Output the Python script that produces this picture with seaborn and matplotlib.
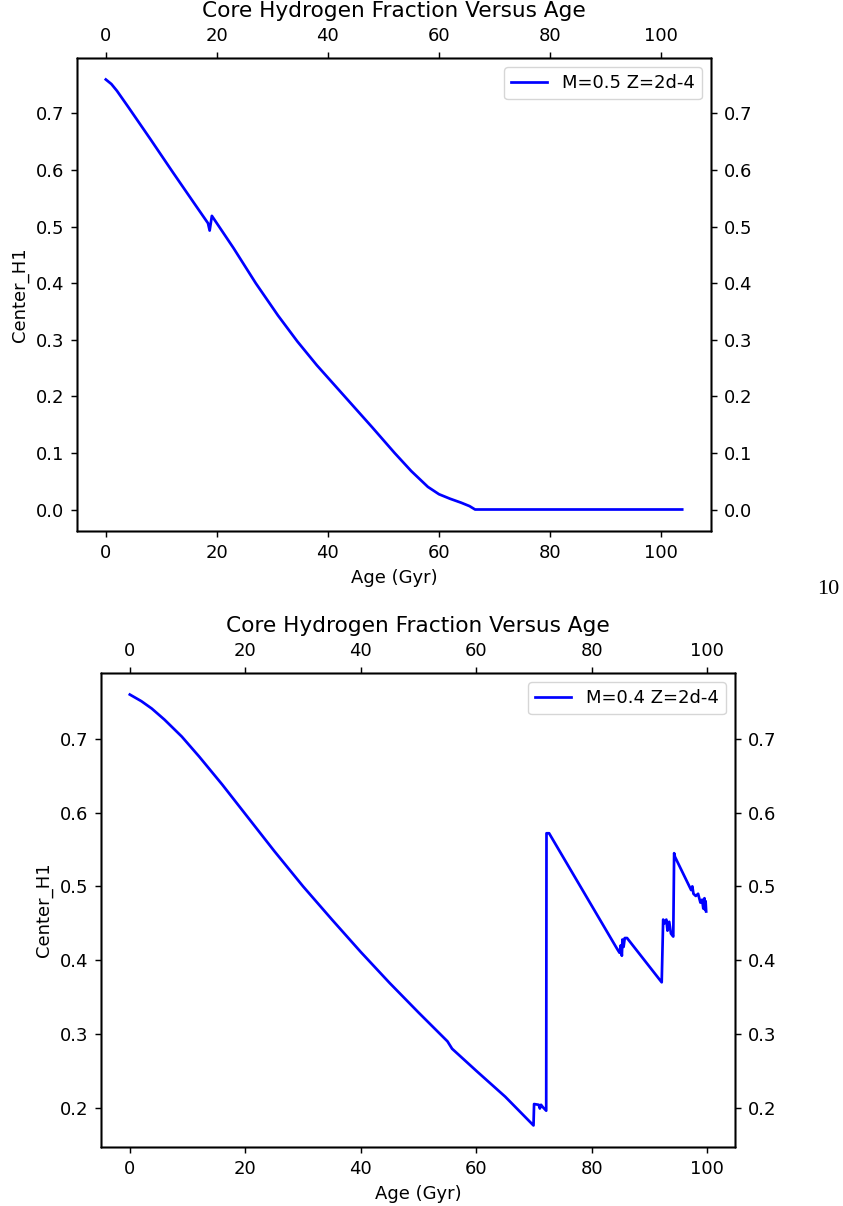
import matplotlib
matplotlib.use("Agg")
import matplotlib.pyplot as plt
import seaborn as sns
import pandas as pd

# ---- data: M=0.5, Z=2d-4 ----
age_05 = [0.0, 1.0, 2.0, 4.0, 8.0, 12.0, 16.0, 18.4, 18.7, 19.1, 23.0, 27.0, 31.0,
          34.5, 38.0, 43.0, 48.0, 52.0, 55.0, 58.0, 60.0, 62.0, 64.0, 65.5, 66.5,
          80.0, 103.8]
h1_05 = [0.760, 0.752, 0.740, 0.712, 0.655, 0.597, 0.540, 0.506, 0.493, 0.519,
         0.462, 0.400, 0.343, 0.297, 0.255, 0.200, 0.145, 0.100, 0.068, 0.040,
         0.027, 0.019, 0.012, 0.006, 0.000, 0.000, 0.000]

# ---- data: M=0.4, Z=2d-4 ----
age_04 = [0.0, 2.0, 3.8, 6.0, 9.0, 12.0, 16.0, 20.0, 25.0, 30.0, 35.0, 40.0, 45.0,
          50.0, 55.0, 55.8, 60.0, 65.0, 69.9, 70.0, 70.8, 71.0, 71.2, 71.5, 72.1,
          72.15, 72.6, 84.4, 84.8, 85.0, 85.2, 85.3, 85.5, 85.7, 86.1, 92.1,
          92.35, 92.6, 92.9, 93.1, 93.4, 93.7, 94.1, 94.25, 94.4, 97.2, 97.4,
          97.6, 98.0, 98.4, 98.8, 99.1, 99.3, 99.5, 99.6, 99.7, 99.8]
h1_04 = [0.760, 0.751, 0.741, 0.726, 0.703, 0.676, 0.638, 0.598, 0.548, 0.500,
         0.455, 0.411, 0.369, 0.329, 0.290, 0.280, 0.250, 0.215, 0.176, 0.205,
         0.204, 0.199, 0.204, 0.201, 0.196, 0.572, 0.572, 0.415, 0.410, 0.420,
         0.406, 0.428, 0.418, 0.430, 0.430, 0.370, 0.455, 0.450, 0.455, 0.440,
         0.452, 0.436, 0.432, 0.545, 0.540, 0.495, 0.500, 0.490, 0.487, 0.490,
         0.478, 0.482, 0.470, 0.484, 0.468, 0.480, 0.466]

xticks = [0, 20, 40, 60, 80, 100]
title = "Core Hydrogen Fraction Versus Age"

s = 1.3
plt.rcParams['font.family'] = ['DejaVu Sans']
plt.rcParams.update({
    'font.size': 10 * s,
    'axes.titlesize': 12 * s,
    'axes.labelsize': 10 * s,
    'xtick.labelsize': 10 * s,
    'ytick.labelsize': 10 * s,
    'legend.fontsize': 10 * s,
    'xtick.major.size': 3.5 * s,
    'ytick.major.size': 3.5 * s,
    'xtick.major.pad': 3.5 * s,
    'ytick.major.pad': 3.5 * s,
    'axes.linewidth': 0.8 * s,
    'xtick.major.width': 0.8 * s,
    'ytick.major.width': 0.8 * s,
    'axes.titlepad': 6 * s,
    'axes.labelpad': 4 * s,
})
fig = plt.figure(figsize=(8.43, 12.06), dpi=100)


def panel(rect, ages, vals, label, yticks):
    ax = fig.add_axes(rect)
    df = pd.DataFrame({"age": ages, "h1": vals})
    sns.lineplot(data=df, x="age", y="h1", ax=ax, color="#0000ff",
                 estimator=None, sort=False, linewidth=1.5 * s, label=label)
    ax.set_xticks(xticks)
    ax.set_yticks(yticks)
    ax.set_yticklabels([f"{t:.1f}" for t in yticks])
    ax.set_xlabel("Age (Gyr)")
    ax.set_ylabel("Center_H1")
    ax.legend(loc="upper right")
    xl = ax.get_xlim()
    yl = ax.get_ylim()
    axr = ax.twinx()
    axr.set_ylim(yl)
    axr.set_yticks(yticks)
    axr.set_yticklabels([f"{t:.1f}" for t in yticks])
    axt = ax.twiny()
    axt.set_xlim(xl)
    axt.set_xticks(xticks)
    axt.set_xticklabels([str(t) for t in xticks])
    axt.set_title(title)
    return ax


panel([77 / 843, 1 - 531 / 1206, 634 / 843, 473 / 1206], age_05, h1_05,
      "M=0.5 Z=2d-4", [0.0, 0.1, 0.2, 0.3, 0.4, 0.5, 0.6, 0.7])
panel([101 / 843, 1 - 1147 / 1206, 634 / 843, 474 / 1206], age_04, h1_04,
      "M=0.4 Z=2d-4", [0.2, 0.3, 0.4, 0.5, 0.6, 0.7])

fig.text(828 / 843, 1 - 590 / 1206, "10", family="Liberation Serif",
         fontsize=16, ha="center", va="center")

fig.savefig("out.png", dpi=100)
